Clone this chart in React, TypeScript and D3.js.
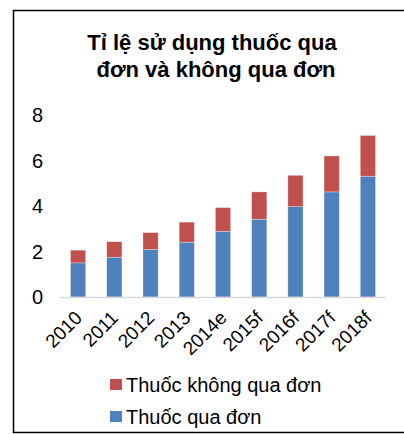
import React from 'react';
import * as d3 from 'd3';

const categories = ['2010', '2011', '2012', '2013', '2014e', '2015f', '2016f', '2017f', '2018f'];
const prescription = [1.5, 1.75, 2.09, 2.41, 2.89, 3.42, 3.97, 4.62, 5.31];
const otc = [0.56, 0.68, 0.74, 0.88, 1.04, 1.2, 1.38, 1.58, 1.79];
const yTicks = [0, 2, 4, 6, 8];
const seriesNames = ['Thuốc qua đơn', 'Thuốc không qua đơn'];
const colors = ['#4F81BD', '#C0504D'];

export default function App() {
  const width = 404;
  const height = 434;
  const margin = { top: 115, right: 18, bottom: 137, left: 60 };

  const x = d3.scaleBand()
    .domain(categories)
    .range([margin.left, width - margin.right])
    .paddingInner(0.58)
    .paddingOuter(0.29);

  const y = d3.scaleLinear()
    .domain([0, 8])
    .range([height - margin.bottom, margin.top]);

  const rows = categories.map((c, i) => ({ cat: c, a: prescription[i], b: otc[i] }));
  const stacked = d3.stack<any>().keys(['a', 'b'])(rows);

  const font = 'Liberation Sans, Arial, sans-serif';

  return (
    <svg width={width} height={height} style={{ position: 'absolute', left: 0, top: 0 }} fontFamily={font}>
      <rect x={0} y={0} width={width} height={height} fill="#fff" />
      {/* frame */}
      <rect x={13.5} y={10.5} width={420} height={422} fill="none" stroke="#000" strokeWidth={1.5} />

      <text x={212} y={50} textAnchor="middle" fontSize={22} fontWeight="bold">Tỉ lệ sử dụng thuốc qua</text>
      <text x={216} y={77} textAnchor="middle" fontSize={22} fontWeight="bold">đơn và không qua đơn</text>

      {yTicks.map(t => (
        <text key={t} x={43} y={y(t)} dy="0.36em" textAnchor="end" fontSize={20}>{t}</text>
      ))}

      {stacked.map((s, si) => (
        <g key={si} fill={colors[si]}>
          {s.map((d, i) => (
            <rect key={i}
              x={x(categories[i])}
              y={y(d[1])}
              width={x.bandwidth()}
              height={y(d[0]) - y(d[1])}
              stroke="#fff" strokeOpacity={0.5} strokeWidth={0.6} />
          ))}
        </g>
      ))}

      <line x1={margin.left} x2={width - margin.right} y1={y(0) + 0.5} y2={y(0) + 0.5} stroke="#D9D9D9" strokeWidth={1.5} />

      {categories.map(c => {
        const cx = (x(c) as number) + x.bandwidth() / 2 + 5;
        const cy = y(0) + 22;
        return (
          <text key={c} x={cx} y={cy} textAnchor="end" fontSize={19}
            transform={`rotate(-45 ${cx} ${cy})`}>{c}</text>
        );
      })}

      {[1, 0].map((si, k) => (
        <g key={si} transform={`translate(110, ${385 + k * 32})`}>
          <rect x={0} y={-6} width={12} height={11} fill={colors[si]} />
          <text x={16} y={0} dy="0.36em" fontSize={20}>{seriesNames[si]}</text>
        </g>
      ))}
    </svg>
  );
}
